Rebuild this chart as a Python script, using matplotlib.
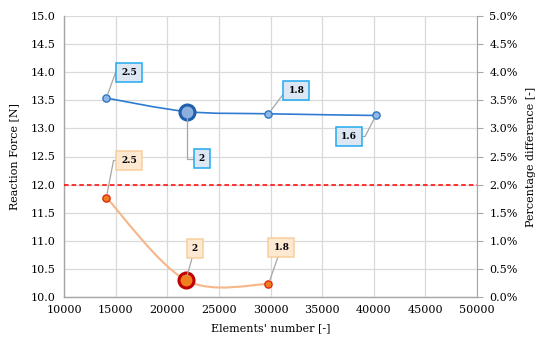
import numpy as np
import matplotlib
matplotlib.use("Agg")
import matplotlib.pyplot as plt
from matplotlib.path import Path
from matplotlib.patches import PathPatch
from matplotlib.ticker import FuncFormatter, MultipleLocator

# Mesh convergence data: element count vs reaction force, labelled by element size
blue_elements = [14100, 21900, 29800, 40200]
blue_force = [13.54, 13.30, 13.26, 13.23]
blue_sizes = ["2.5", "2", "1.8", "1.6"]

orange_elements = [14100, 21800, 29800]
orange_force = [11.77, 10.30, 10.23]
orange_sizes = ["2.5", "2", "1.8"]

threshold_pct = 0.02

x_ticks = list(range(10000, 50001, 5000))
y_ticks = [10.0, 10.5, 11.0, 11.5, 12.0, 12.5, 13.0, 13.5, 14.0, 14.5, 15.0]

plt.rcParams["font.family"] = ["DejaVu Serif"]
FS = 8

fig = plt.figure(figsize=(5.37, 3.46), dpi=100)
ax = fig.add_axes([64 / 537, 1 - 297 / 346, (477 - 64) / 537, (297 - 16) / 346])


def smooth_path(xs, ys):
    """Catmull-Rom style cubic Bezier through the points (like a smoothed line)."""
    pts = np.column_stack([xs, ys]).astype(float)
    n = len(pts)
    verts = [pts[0]]
    codes = [Path.MOVETO]
    for i in range(n - 1):
        p0 = pts[i - 1] if i > 0 else pts[i]
        p1 = pts[i]
        p2 = pts[i + 1]
        p3 = pts[i + 2] if i + 2 < n else pts[i + 1]
        c1 = p1 + (p2 - p0) / 6.0
        c2 = p2 - (p3 - p1) / 6.0
        verts += [c1, c2, p2]
        codes += [Path.CURVE4] * 3
    return Path(verts, codes)


grid_c = "#d9d9d9"
ax.set_xlim(10000, 50000)
ax.set_ylim(10, 15)
ax.set_xticks(x_ticks)
ax.set_yticks(y_ticks)
ax.yaxis.set_major_formatter(FuncFormatter(lambda v, p: f"{v:.1f}"))
ax.grid(True, color=grid_c, linewidth=0.9)
ax.set_axisbelow(True)
ax.tick_params(axis="both", length=0, labelsize=FS, pad=6)
for s in ["top", "right"]:
    ax.spines[s].set_visible(False)
for s in ["left", "bottom"]:
    ax.spines[s].set_color("#a6a6a6")
    ax.spines[s].set_linewidth(1.0)

ax.set_xlabel("Elements' number [-]", fontsize=FS, labelpad=6)
ax.set_ylabel("Reaction Force [N]", fontsize=FS, labelpad=8)

# secondary axis for the percentage difference
ax2 = ax.twinx()
ax2.set_ylim(0, 0.05)
ax2.yaxis.set_major_locator(MultipleLocator(0.005))
ax2.yaxis.set_major_formatter(FuncFormatter(lambda v, p: f"{v * 100:.1f}%"))
ax2.tick_params(axis="y", length=4, color="#a6a6a6", labelsize=FS, pad=5)
for s in ["top", "left", "bottom"]:
    ax2.spines[s].set_visible(False)
ax2.spines["right"].set_color("#a6a6a6")
ax2.set_ylabel("Percentage difference [-]", fontsize=FS, labelpad=6)
ax2.axhline(threshold_pct, color="#ff0000", linestyle=(0, (3, 2)), linewidth=1.1, zorder=2)

# smoothed series lines
ax.add_patch(PathPatch(smooth_path(blue_elements, blue_force), fill=False,
                       edgecolor="#2e7bd0", linewidth=1.2, zorder=3))
ax.add_patch(PathPatch(smooth_path(orange_elements, orange_force), fill=False,
                       edgecolor="#f7b68a", linewidth=1.5, zorder=3))

# markers: the selected mesh is highlighted
for i, (x, y) in enumerate(zip(blue_elements, blue_force)):
    if blue_sizes[i] == "2":
        ax.plot(x, y, "o", ms=10.8, mfc="#8cb0de", mec="#1f5fae", mew=2.2, zorder=5)
    else:
        ax.plot(x, y, "o", ms=5.2, mfc="#8fb8e6", mec="#2e75c4", mew=1.0, zorder=5)
for i, (x, y) in enumerate(zip(orange_elements, orange_force)):
    if orange_sizes[i] == "2":
        ax.plot(x, y, "o", ms=10.8, mfc="#f07f20", mec="#c00000", mew=2.2, zorder=5)
    else:
        ax.plot(x, y, "o", ms=5.2, mfc="#f07f20", mec="#e02a10", mew=1.0, zorder=5)

# size callouts
blue_box = dict(boxstyle="square,pad=0.55", fc="#dde7f4", ec="#22aaee", lw=1.1)
orange_box = dict(boxstyle="square,pad=0.55", fc="#fde8d2", ec="#f8cf9c", lw=1.1)

blue_offsets = [(23, 26, 70), (15, -47, 90), (28, 23, 53), (-27, -21, 63)]
orange_offsets = [(23, 37, 79), (9, 32, None), (13, 37, None)]


def callout(x, y, txt, off, box):
    dx, dy, ang = off
    if ang is None:
        cs = "arc3,rad=0"
    else:
        cs = f"angle,angleA=0,angleB={ang},rad=0"
    ax.annotate(txt, xy=(x, y), xytext=(dx, dy), textcoords="offset pixels",
                ha="center", va="center", fontsize=6.5, fontweight="bold",
                bbox=box, zorder=6,
                arrowprops=dict(arrowstyle="-", color="#a6a6a6", lw=0.9,
                                connectionstyle=cs, shrinkA=0, shrinkB=3))


for x, y, t, o in zip(blue_elements, blue_force, blue_sizes, blue_offsets):
    callout(x, y, t, o, blue_box)
for x, y, t, o in zip(orange_elements, orange_force, orange_sizes, orange_offsets):
    callout(x, y, t, o, orange_box)

fig.savefig("out.png", dpi=100)
